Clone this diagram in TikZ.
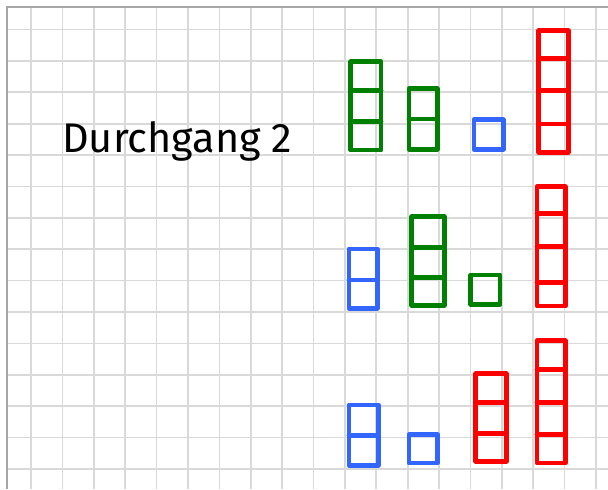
\documentclass[tikz,border=0pt]{standalone}
\usepackage{fontspec}
\newfontfamily\handfont{Fira Sans}
\usetikzlibrary{positioning}

\definecolor{gridgray}{RGB}{217,217,217}
\definecolor{framegray}{RGB}{166,166,166}
\definecolor{penred}{RGB}{255,0,0}
\definecolor{pengreen}{RGB}{0,128,0}
\definecolor{penblue}{RGB}{51,102,255}

\tikzset{
  pen/.style={line width=4.4pt, line cap=round, line join=round},
  gridline/.style={gridgray, line width=1.5pt},
}

\begin{document}
\begin{tikzpicture}[x=1cm, y=-1cm]

\useasboundingbox (-0.988,-0.94) rectangle (18.381,14.638);

% paper
\foreach \u in {0,...,18} \draw[gridline] (\u,-0.717) -- (\u,14.638);
\foreach \v in {0,...,14} \draw[gridline] (-0.765,\v) -- (18.381,\v);
\draw[framegray, line width=1.8pt] (-0.765,14.638) -- (-0.765,-0.717) -- (18.381,-0.717);

% title
\node[font=\handfont\fontsize{37.5}{42}\selectfont, anchor=base west, inner sep=0pt] (title) at (0.99,3.93) {Durchgang 2};

% first row
\draw[pen, pengreen] (10.19,1.03) rectangle (11.15,3.84);
\draw[pen, pengreen] (10.19,1.95) -- (11.15,1.95);
\draw[pen, pengreen] (10.19,2.94) -- (11.15,2.94);
\draw[pen, pengreen] (12.04,1.89) rectangle (12.94,3.81);
\draw[pen, pengreen] (12.04,2.85) -- (12.94,2.85);
\draw[pen, penblue] (14.11,2.88) rectangle (15.04,3.81);
\draw[pen, penred] (16.18,0.04) rectangle (17.11,3.91);
\draw[pen, penred] (16.18,0.92) -- (17.11,0.92);
\draw[pen, penred] (16.18,1.93) -- (17.11,1.93);
\draw[pen, penred] (16.18,3.01) -- (17.11,3.01);

% second row
\draw[pen, penblue] (10.13,6.99) rectangle (11.03,8.88);
\draw[pen, penblue] (10.13,7.98) -- (11.03,7.98);
\draw[pen, pengreen] (12.13,5.97) rectangle (13.16,8.78);
\draw[pen, pengreen] (12.13,6.94) -- (13.16,6.94);
\draw[pen, pengreen] (12.13,7.89) -- (13.16,7.89);
\draw[pen, pengreen] (14.01,7.82) rectangle (14.94,8.75);
\draw[pen, penred] (16.12,5.01) rectangle (17.02,8.81);
\draw[pen, penred] (16.12,5.86) -- (17.02,5.86);
\draw[pen, penred] (16.12,6.92) -- (17.02,6.92);
\draw[pen, penred] (16.12,8.05) -- (17.02,8.05);

% third row
\draw[pen, penblue] (10.13,11.96) rectangle (11.06,13.88);
\draw[pen, penblue] (10.13,12.92) -- (11.06,12.92);
\draw[pen, penblue] (12.04,12.91) rectangle (12.96,13.81);
\draw[pen, penred] (14.17,10.97) rectangle (15.14,13.75);
\draw[pen, penred] (14.17,11.89) -- (15.14,11.89);
\draw[pen, penred] (14.17,12.86) -- (15.14,12.86);
\draw[pen, penred] (16.12,9.92) rectangle (17.02,13.81);
\draw[pen, penred] (16.12,10.83) -- (17.02,10.83);
\draw[pen, penred] (16.12,11.89) -- (17.02,11.89);
\draw[pen, penred] (16.12,12.89) -- (17.02,12.89);

\end{tikzpicture}
\end{document}
